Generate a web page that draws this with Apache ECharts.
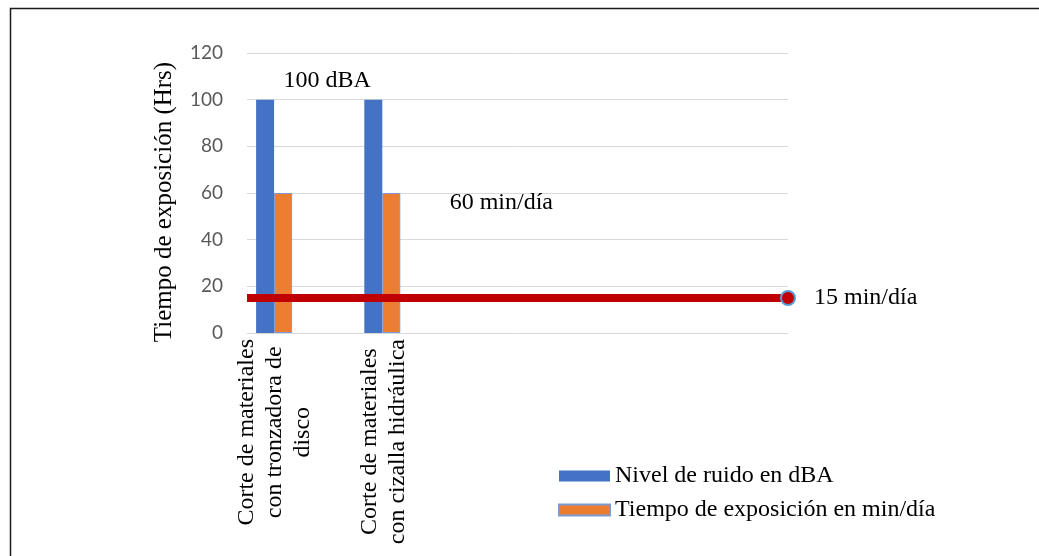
<!DOCTYPE html>
<html>
<head>
<meta charset="utf-8">
<script src="https://cdn.jsdelivr.net/npm/echarts@6/dist/echarts.min.js"></script>
<style>
  html, body { margin: 0; padding: 0; background: #fff; }
  #chart { width: 1039px; height: 556px; }
</style>
</head>
<body>
<div id="chart"></div>
<script>
// Activities measured (three trailing slots are left empty on the axis)
const categories = [
  'Corte de materiales\ncon tronzadora de\ndisco',
  'Corte de materiales\ncon cizalla hidráulica',
  '', '', ''
];
const noiseLevel = [100, 100, '-', '-', '-'];      // Nivel de ruido en dBA
const exposureTime = [60, 60, '-', '-', '-'];       // Tiempo de exposición en min/día
const exposureLimit = 15;                           // permitted exposure, min/día
const yTicks = { min: 0, max: 120, interval: 20 };

const serif = 'Liberation Serif';
const emptySlot = ['-', '-', '-', '-', '-'];

const chart = echarts.init(document.getElementById('chart'), null, { renderer: 'canvas' });

const slotSeries = (name) => ({
  name: name, type: 'bar', data: emptySlot, barWidth: 18, barGap: 0, silent: true
});

chart.setOption({
  backgroundColor: '#ffffff',
  animation: false,
  graphic: [{
    type: 'rect', silent: true,
    shape: { x: 10.5, y: 8.5, width: 1100, height: 600 },
    style: { fill: 'none', stroke: '#1a1a1a', lineWidth: 1.5 }
  }],
  grid: { left: 247, right: 251, top: 53, bottom: 223, containLabel: false },
  legend: {
    data: ['Nivel de ruido en dBA', 'Tiempo de exposición en min/día'],
    orient: 'vertical', left: 553, top: 459,
    itemWidth: 51, itemHeight: 11, itemGap: 10,
    icon: 'rect',
    textStyle: { fontFamily: serif, fontSize: 24, lineHeight: 24, color: '#000' }
  },
  xAxis: [{
    type: 'category',
    data: categories,
    axisLine: { lineStyle: { color: '#D9D9D9', width: 1 } },
    axisTick: { show: false },
    axisLabel: {
      interval: 0, rotate: 90, margin: 6,
      fontFamily: serif, fontSize: 24, color: '#000', lineHeight: 28,
      padding: [0, 0, 52, 0],
      formatter: (v) => v ? v.split('\n').map(l => '{c|' + l + '}').join('\n') : '',
      rich: { c: { align: 'center', fontFamily: serif, fontSize: 24, lineHeight: 28, color: '#000' } }
    }
  }, {
    type: 'value', min: 0, max: 1, show: false
  }],
  yAxis: {
    type: 'value',
    min: yTicks.min, max: yTicks.max, interval: yTicks.interval,
    name: 'Tiempo de exposición (Hrs)',
    nameLocation: 'middle', nameGap: 70, nameRotate: 90,
    nameTextStyle: { fontFamily: serif, fontSize: 25, color: '#000', padding: [0, 18, 0, 0] },
    axisLine: { show: false },
    axisTick: { show: false },
    axisLabel: { fontFamily: 'Lato', fontSize: 19, color: '#595959', margin: 24 },
    splitLine: { lineStyle: { color: '#D9D9D9', width: 1 } }
  },
  series: [
    {
      name: 'Nivel de ruido en dBA', type: 'bar', barWidth: 18, barGap: 0,
      itemStyle: { color: '#4472C4' },
      data: noiseLevel.map((v, i) => i === 0 ? {
        value: v,
        label: { show: true, position: 'top', distance: 0, offset: [62, -7],
                 formatter: '{c} dBA', fontFamily: serif, fontSize: 24, color: '#000' }
      } : v)
    },
    {
      name: 'Tiempo de exposición en min/día', type: 'bar', barWidth: 18, barGap: 0,
      itemStyle: { color: '#ED7D31', borderColor: '#7A9BD3', borderWidth: 1 },
      data: exposureTime.map((v, i) => i === 1 ? {
        value: v,
        label: { show: true, position: 'top', distance: 0, offset: [110, 22],
                 formatter: '{c} min/día', fontFamily: serif, fontSize: 24, color: '#000' }
      } : v)
    },
    slotSeries('s3'), slotSeries('s4'), slotSeries('s5'),
    {
      name: 'Límite', type: 'line', xAxisIndex: 1, clip: false,
      lineStyle: { color: '#C00000', width: 8 },
      itemStyle: { color: '#C00000', borderColor: '#5B9BD5', borderWidth: 2 },
      symbol: 'circle', symbolSize: 14, z: 5,
      data: [
        { value: [0, exposureLimit], symbol: 'none' },
        { value: [1, exposureLimit],
          label: { show: true, position: 'right', distance: 18,
                   formatter: (p) => p.value[1] + ' min/día',
                   fontFamily: serif, fontSize: 24, color: '#000' } }
      ]
    }
  ]
});
</script>
</body>
</html>
